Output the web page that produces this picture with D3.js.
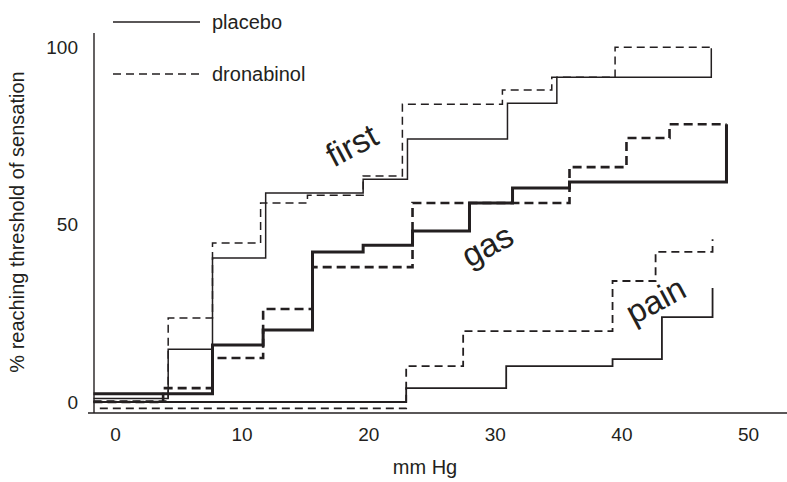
<!DOCTYPE html>
<html>
<head>
<meta charset="utf-8">
<script src="https://cdn.jsdelivr.net/npm/d3@7"></script>
<style>
  body { margin: 0; background: #fff; }
  svg { display: block; font-family: "Liberation Sans", Arial, sans-serif; }
  .axis text { fill: #231f20; font-size: 19px; }
  .axis path { stroke: #231f20; stroke-width: 1.4; }
</style>
</head>
<body>
<svg id="chart" width="787" height="482"></svg>
<script>

// step curves: [mm Hg, % reaching threshold]
var firstPlacebo   = [[-1.7, 1.0], [4.2, 14.9], [7.7, 40.6], [11.9, 58.9], [19.6, 62.8], [23.1, 74.1], [31.0, 84.2], [34.9, 91.5], [47.1, 91.5], [47.1, 99.7]];
var firstDronabinol = [[-1.7, 0.3], [4.2, 23.7], [7.7, 44.8], [11.5, 56.1], [15.2, 58.3], [19.6, 63.7], [22.7, 83.9], [30.6, 87.9], [34.5, 91.5], [39.5, 100], [47.1, 100]];
var gasPlacebo     = [[-1.7, 2.3], [7.7, 16.1], [11.7, 20.3], [15.6, 42.3], [19.6, 44.2], [23.5, 48.2], [28.0, 56.1], [31.4, 60.3], [35.9, 62.0], [48.3, 62.0], [48.3, 78.3]];
var gasDronabinol  = [[-1.7, 0.0], [3.8, 3.9], [7.7, 12.4], [11.7, 26.2], [15.6, 38.0], [23.5, 56.1], [35.9, 66.2], [40.4, 74.4], [43.8, 78.3], [48.3, 78.3]];
var painPlacebo    = [[-1.7, 0.0], [23.0, 3.9], [30.9, 10.1], [39.3, 12.1], [43.2, 23.9], [47.2, 23.9], [47.2, 32.1]];
var painDronabinol = [[-1.2, -1.8], [23.0, 10.1], [27.5, 20.0], [39.3, 34.1], [42.7, 42.3], [47.2, 42.3], [47.2, 45.9]];

var xTicks = [0, 10, 20, 30, 40, 50];
var yTicks = [0, 50, 100];

var legendLabels = ['placebo', 'dronabinol'];
var curveNames = ['first', 'gas', 'pain'];
var curveNamePos = [[18.7, 72.4], [29.4, 44.2], [42.7, 28.7]];

var xTitle = 'mm Hg';
var yTitle = '% reaching threshold of sensation';

var svg = d3.select('#chart');
var ink = '#231f20';

var x = d3.scaleLinear().domain([-1.66, 53.08]).range([94, 787]);
var y = d3.scaleLinear().domain([-3.1, 104]).range([413, 33]);

// x axis (line starts a bit left of the y axis, no tick marks)
var gx = svg.append('g').attr('class', 'axis').attr('transform', 'translate(0,413)')
    .call(d3.axisBottom(x).tickValues(xTicks).tickSize(0).tickPadding(15).tickFormat(d3.format('d')));
gx.select('.domain').attr('d', 'M88,0H787');

var gy = svg.append('g').attr('class', 'axis').attr('transform', 'translate(94,0)')
    .call(d3.axisLeft(y).tickValues(yTicks).tickSize(0).tickPadding(16).tickFormat(d3.format('d')));
gy.select('.domain').attr('d', 'M0,33V413');

svg.append('text').attr('x', 425).attr('y', 474).attr('text-anchor', 'middle')
    .attr('font-size', 20).attr('fill', ink).text(xTitle);

svg.append('text').attr('transform', 'translate(24,222) rotate(-90)').attr('text-anchor', 'middle')
    .attr('font-size', 20).attr('fill', ink).text(yTitle);

var line = d3.line().x(function(d) { return x(d[0]); }).y(function(d) { return y(d[1]); })
    .curve(d3.curveStepAfter);

var series = [
    { data: firstPlacebo,    width: 1.5, dash: null },
    { data: firstDronabinol, width: 1.5, dash: '8,5' },
    { data: gasPlacebo,      width: 3,   dash: null },
    { data: gasDronabinol,   width: 2.6, dash: '9,5' },
    { data: painPlacebo,     width: 1.8, dash: null },
    { data: painDronabinol,  width: 1.8, dash: '8,5' }
];

svg.append('g').selectAll('path').data(series).join('path')
    .attr('d', function(s) { return line(s.data); })
    .attr('fill', 'none')
    .attr('stroke', ink)
    .attr('stroke-width', function(s) { return s.width; })
    .attr('stroke-dasharray', function(s) { return s.dash; });

// legend
var legend = svg.append('g');
legendLabels.forEach(function(lab, i) {
    var ly = 22 + i * 52;
    legend.append('line').attr('x1', 113).attr('x2', 200).attr('y1', ly).attr('y2', ly)
        .attr('stroke', ink).attr('stroke-width', 1.5)
        .attr('stroke-dasharray', i ? '8,5' : null);
    legend.append('text').attr('x', 212).attr('y', ly).attr('dy', '0.35em')
        .attr('font-size', 20).attr('fill', ink).text(lab);
});

// rotated curve names
svg.append('g').selectAll('text').data(curveNames).join('text')
    .attr('transform', function(d, i) {
        var p = curveNamePos[i];
        return 'translate(' + x(p[0]) + ',' + y(p[1]) + ') rotate(-28)';
    })
    .attr('text-anchor', 'middle').attr('dy', '0.35em')
    .attr('font-size', 33).attr('fill', ink)
    .text(function(d) { return d; });

</script>
</body>
</html>
